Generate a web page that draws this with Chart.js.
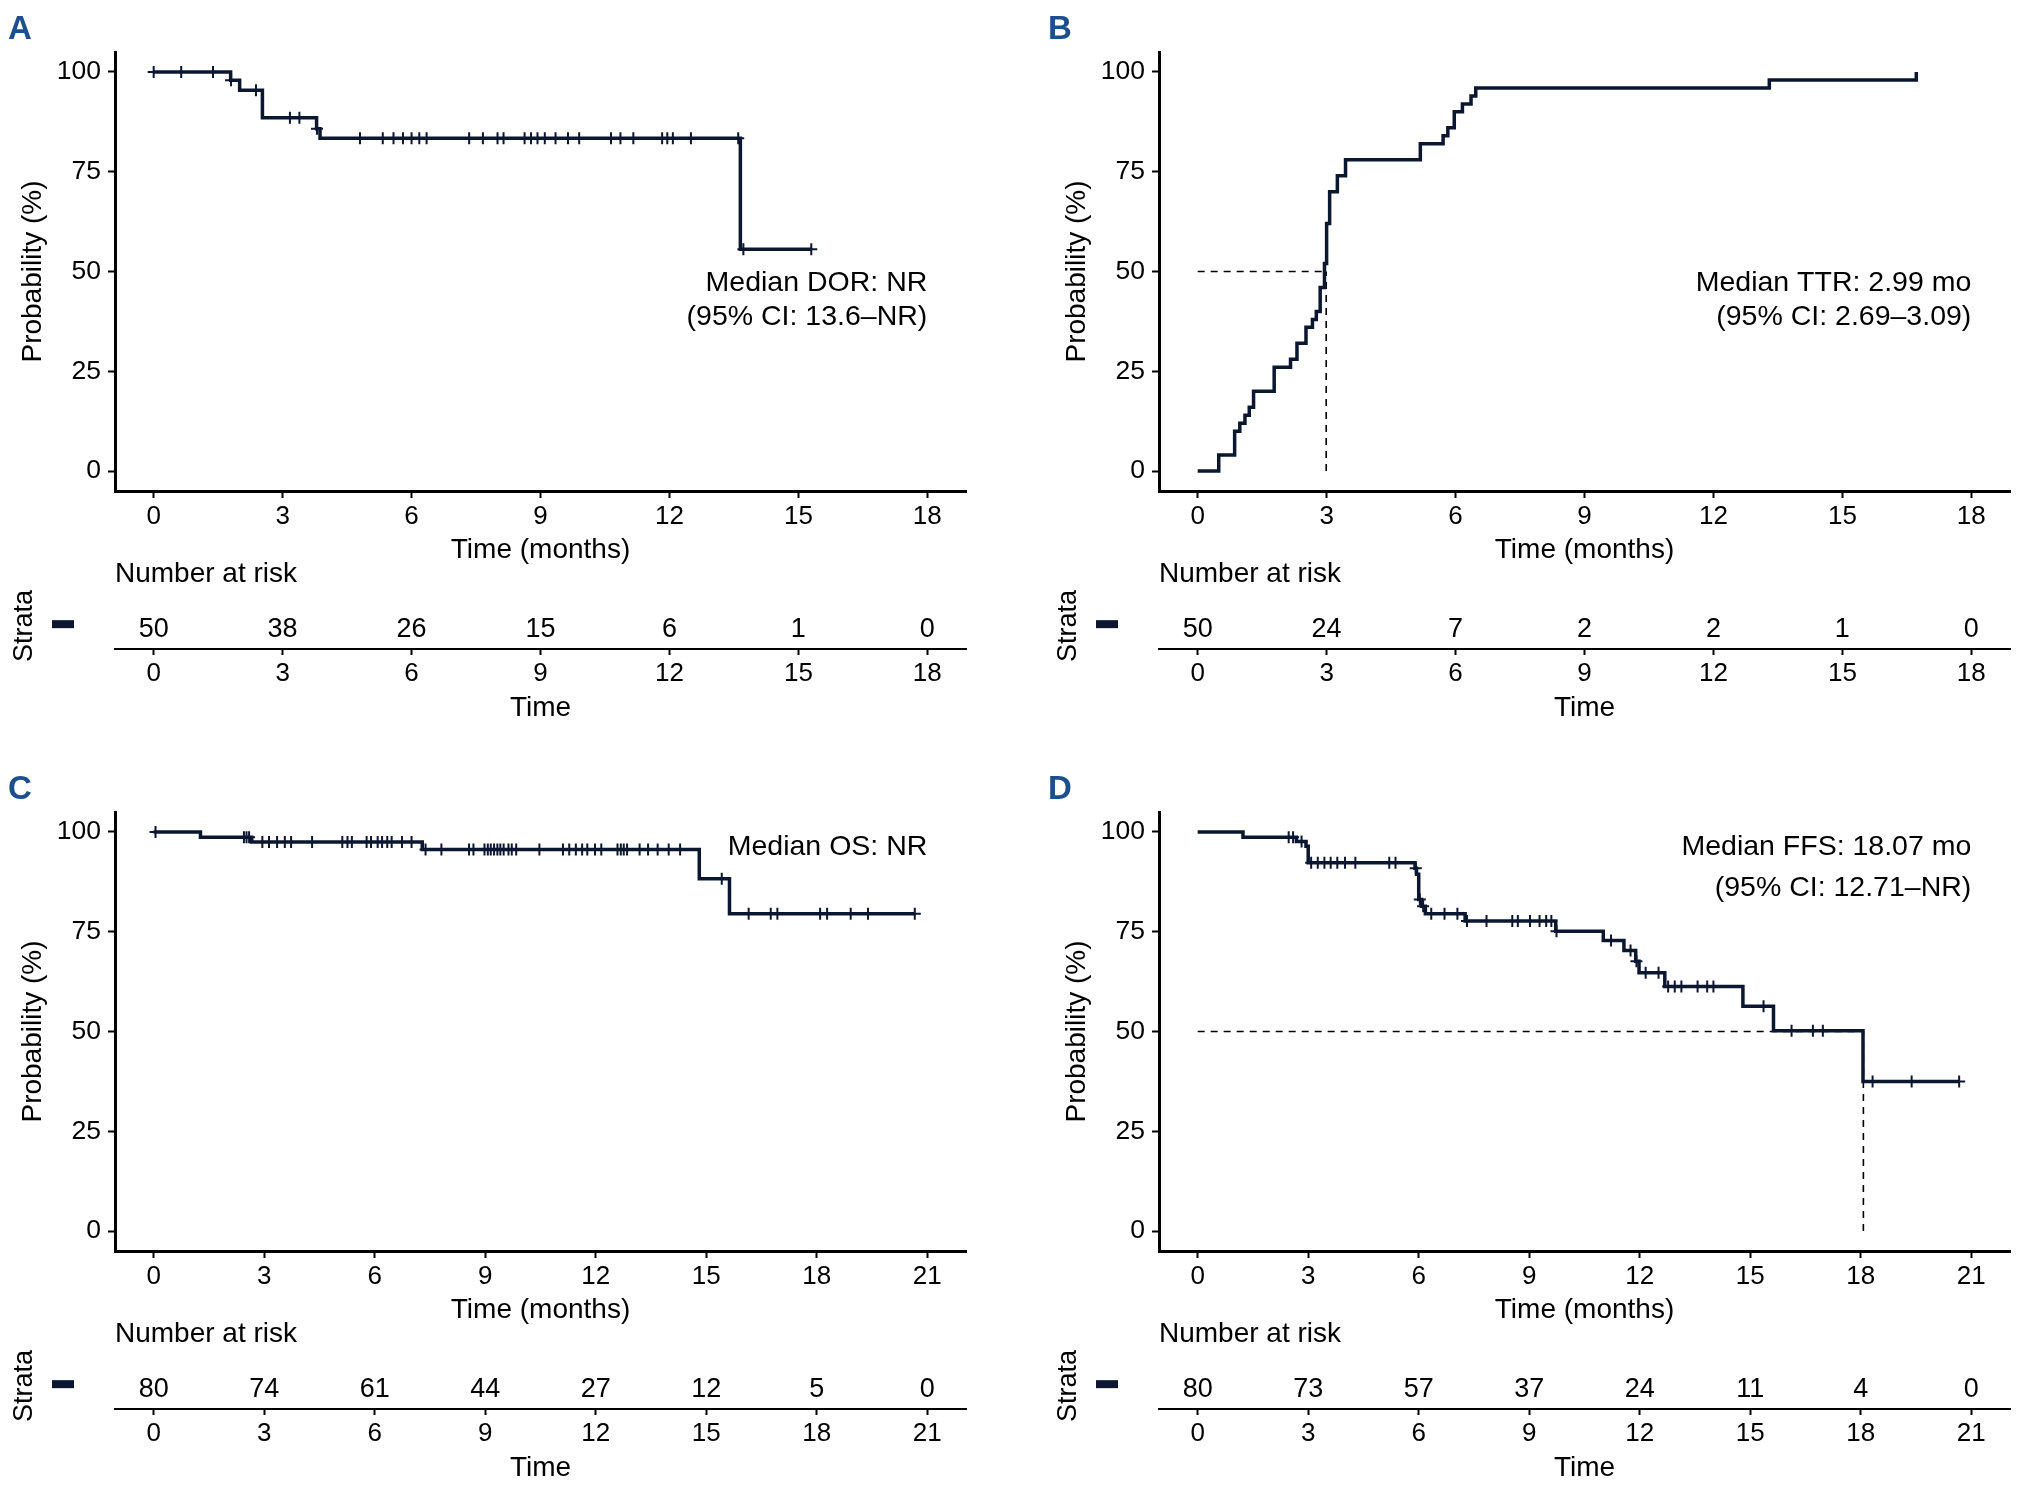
<!DOCTYPE html>
<html>
<head>
<meta charset="utf-8">
<title>KM panels</title>
<script src="https://cdn.jsdelivr.net/npm/chart.js@4.4.1/dist/chart.umd.min.js"></script>
<style>
    html, body { margin: 0; background: #fff; }
    #page { position: relative; width: 2029px; height: 1494px; overflow: hidden; }
    #page canvas { position: absolute; }
</style>
</head>
<body>
<div id="page"></div>
<script>
// ---- data ----
const ticks18 = [0, 3, 6, 9, 12, 15, 18];
const ticks21 = [0, 3, 6, 9, 12, 15, 18, 21];

// A: duration of response
const dorTime = [0, 1.79, 2.0, 2.53, 3.79, 3.87, 13.65, 15.3];
const dorSurv = [100, 97.9, 95.4, 88.5, 85.8, 83.4, 55.6, 55.6];
const dorCensor = [0, 0.64, 1.38, 1.8, 2.38, 3.17, 3.39, 3.8, 4.8, 5.33, 5.58, 5.8, 6.0, 6.18, 6.35,
    7.34, 7.66, 8.0, 8.14, 8.63, 8.78, 8.93, 9.1, 9.35, 9.64, 9.9, 10.64, 10.86, 11.16, 11.83, 11.95,
    12.08, 12.5, 13.6, 13.72, 15.3];
const dorRisk = [50, 38, 26, 15, 6, 1, 0];

// B: time to response (cumulative)
const ttrTime = [0, 0.49, 0.86, 0.98, 1.1, 1.2, 1.3, 1.78, 2.16, 2.31, 2.52, 2.67, 2.76, 2.85, 2.95,
    3.0, 3.07, 3.25, 3.44, 5.18, 5.71, 5.82, 5.97, 6.16, 6.36, 6.47, 13.3, 16.72];
const ttrCum = [0, 4, 10, 12, 14, 16, 20, 26, 28, 32, 36, 38, 40, 46, 52,
    62, 70, 74, 78, 82, 84, 86, 90, 92, 94, 96, 98, 100];
const ttrEnd = 16.72;
const ttrMedian = 2.99;
const ttrRisk = [50, 24, 7, 2, 2, 1, 0];

// C: overall survival
const osTime = [0, 1.27, 2.66, 7.29, 14.81, 15.63, 20.66];
const osSurv = [100, 98.7, 97.5, 95.6, 88.3, 79.5, 79.5];
const osCensor = [0.05, 2.45, 2.52, 2.59, 2.95, 3.13, 3.35, 3.56, 3.73, 4.3, 5.12, 5.26, 5.38, 5.78,
    5.9, 6.08, 6.2, 6.34, 6.46, 6.74, 7.0, 7.38, 7.81, 8.56, 8.68, 8.98, 9.07, 9.15, 9.24, 9.33, 9.41,
    9.5, 9.63, 9.72, 9.84, 10.47, 11.11, 11.28, 11.46, 11.63, 11.77, 11.98, 12.15, 12.59, 12.68, 12.76,
    12.85, 13.19, 13.42, 13.68, 13.98, 14.29, 15.42, 16.15, 16.75, 16.93, 18.09, 18.28, 18.92, 19.39, 20.66];
const osRisk = [80, 74, 61, 44, 27, 12, 5, 0];

// D: failure-free survival
const ffsTime = [0, 1.23, 2.68, 2.94, 3.0, 5.9, 5.94, 6.0, 6.08, 6.18, 7.26, 9.72, 11.01, 11.57,
    11.89, 11.98, 12.68, 14.8, 15.63, 18.06, 20.67];
const ffsSurv = [100, 98.7, 97.6, 96.4, 92.3, 90.9, 89.4, 83.1, 81.4, 79.5, 77.7, 75.1, 72.8, 70.3,
    67.6, 64.7, 61.3, 56.3, 50.2, 37.5, 37.5];
const ffsCensor = [2.47, 2.59, 2.82, 3.08, 3.26, 3.44, 3.61, 3.79, 4.0, 4.28, 5.2, 5.37, 5.92, 6.03,
    6.12, 6.34, 6.7, 7.05, 7.31, 7.84, 8.54, 8.69, 9.02, 9.28, 9.46, 9.6, 9.74, 11.22, 11.75, 11.91,
    12.16, 12.51, 12.77, 12.95, 13.13, 13.57, 13.83, 14.0, 15.36, 16.12, 16.7, 16.97, 18.32, 19.38, 20.67];
const ffsMedian = 18.07;
const ffsRisk = [80, 73, 57, 37, 24, 11, 4, 0];

// ---- drawing ----
const FONT = "'Liberation Sans', Arial, Helvetica, sans-serif";
const INK = '#0b1630';
const LETTER = '#1d4f8c';

function stepValue(times, vals, t) {
    let v = vals[0];
    for (let i = 0; i < times.length; i++) if (times[i] <= t) v = vals[i];
    return v;
}

function addCanvas(left, top, w, h) {
    const c = document.createElement('canvas');
    c.width = w; c.height = h;
    c.style.left = left + 'px'; c.style.top = top + 'px';
    c.style.width = w + 'px'; c.style.height = h + 'px';
    document.getElementById('page').appendChild(c);
    return c;
}

const kmText = {
    id: 'kmText',
    afterDraw(chart, args, opts) {
        const { ctx, scales: { x, y } } = chart;
        ctx.save();
        ctx.fillStyle = LETTER;
        ctx.font = 'bold 33px ' + FONT;
        ctx.textAlign = 'left';
        ctx.textBaseline = 'alphabetic';
        ctx.fillText(opts.letter, opts.letterX, 39);
        ctx.fillStyle = '#000';
        ctx.font = '28.5px ' + FONT;
        ctx.textAlign = 'right';
        ctx.textBaseline = 'middle';
        opts.note.forEach((s, i) => ctx.fillText(s, x.getPixelForValue(opts.noteX), y.getPixelForValue(opts.noteY[i])));
        ctx.restore();
    }
};

const riskText = {
    id: 'riskText',
    afterDraw(chart, args, opts) {
        const { ctx, chartArea, scales: { x, y } } = chart;
        ctx.save();
        ctx.fillStyle = '#000';
        ctx.textBaseline = 'middle';
        ctx.font = '28px ' + FONT;
        ctx.textAlign = 'left';
        ctx.fillText('Number at risk', chartArea.left, y.getPixelForValue(1.63));
        ctx.font = '27px ' + FONT;
        ctx.textAlign = 'center';
        opts.ticks.forEach((t, i) => ctx.fillText(String(opts.risk[i]), x.getPixelForValue(t), y.getPixelForValue(0.43)));
        ctx.fillStyle = INK;
        ctx.fillRect(opts.keyX, y.getPixelForValue(0.54) - 4, 22, 8);
        ctx.restore();
    }
};

function xScale(p, height, title, tickLen, borderW, titlePad) {
    return {
        type: 'linear',
        min: -0.05 * p.xEnd,
        max: 1.05 * p.xEnd,
        afterBuildTicks: s => { s.ticks = p.ticks.map(v => ({ value: v })); },
        afterFit: s => { s.height = height; },
        grid: { display: true, drawOnChartArea: false, drawTicks: true, tickLength: tickLen, tickWidth: 2, tickColor: '#000' },
        border: { display: true, color: '#000', width: borderW },
        ticks: { color: '#000', font: { family: FONT, size: 26 }, padding: 3, maxRotation: 0, autoSkip: false },
        title: { display: true, text: title, color: '#000', font: { family: FONT, size: 28 }, padding: { top: 0, bottom: titlePad } }
    };
}

function drawPanel(p) {
    const W = p.dx === 0 ? 1010 : 2029 - p.dx;
    const padRight = W - 966;

    // survival / incidence curve
    const curve = p.time.map((t, i) => ({ x: t, y: p.val[i] }));
    const datasets = [{
        data: curve, showLine: true, stepped: true, pointRadius: 0,
        borderColor: INK, borderWidth: 3.5, order: 1
    }];
    if (p.censor) {
        datasets.push({
            data: p.censor.map(t => ({ x: t, y: stepValue(p.time, p.val, t) })),
            showLine: false, pointStyle: 'cross', pointRadius: 6,
            borderColor: INK, borderWidth: 2, order: 0
        });
    }
    if (p.median != null) {
        const dash = { showLine: true, pointRadius: 0, borderColor: '#000', borderWidth: 1.6, borderDash: [7, 6], order: 2 };
        datasets.push(Object.assign({ data: [{ x: 0, y: 50 }, { x: p.median, y: 50 }] }, dash));
        datasets.push(Object.assign({ data: [{ x: p.median, y: 0 }, { x: p.median, y: 50 }] }, dash));
    }

    new Chart(addCanvas(p.dx, p.dy, W, 570), {
        type: 'scatter',
        data: { datasets },
        options: {
            responsive: false, animation: false,
            layout: { padding: { top: 52, right: padRight, left: 0, bottom: 0 } },
            plugins: {
                legend: { display: false }, tooltip: { enabled: false },
                kmText: { letter: p.letter, letterX: p.letterX, note: p.note, noteX: p.noteX, noteY: p.noteY }
            },
            scales: {
                x: xScale(p, 79, 'Time (months)', 7, 3, 3),
                y: {
                    type: 'linear', min: -5, max: 105,
                    afterBuildTicks: s => { s.ticks = [0, 25, 50, 75, 100].map(v => ({ value: v })); },
                    afterFit: s => { s.width = 115; },
                    grid: { display: true, drawOnChartArea: false, drawTicks: true, tickLength: 7, tickWidth: 2, tickColor: '#000' },
                    border: { display: true, color: '#000', width: 3 },
                    ticks: { color: '#000', font: { family: FONT, size: 26.5 }, padding: 7 },
                    title: { display: true, text: 'Probability (%)', color: '#000', font: { family: FONT, size: 28 }, padding: { top: 16, bottom: 0 } }
                }
            }
        },
        plugins: [kmText]
    });

    // number-at-risk table
    new Chart(addCanvas(p.dx, p.dy + 555, W, 175), {
        type: 'scatter',
        data: { datasets: [] },
        options: {
            responsive: false, animation: false,
            layout: { padding: { top: 48, right: padRight, left: 0, bottom: 0 } },
            plugins: {
                legend: { display: false }, tooltip: { enabled: false },
                riskText: { ticks: p.ticks, risk: p.risk, keyX: 52 }
            },
            scales: {
                x: xScale(p, 81, 'Time', 6, 2, 5),
                y: {
                    type: 'linear', min: 0, max: 1,
                    afterFit: s => { s.width = 115; },
                    grid: { display: false }, border: { display: false },
                    ticks: { display: false },
                    title: { display: true, text: 'Strata', color: '#000', font: { family: FONT, size: 27 }, padding: { top: 8, bottom: 0 } }
                }
            }
        },
        plugins: [riskText]
    });
}

const panels = [
    { letter: 'A', dx: 0, dy: 0, xEnd: 18, ticks: ticks18, time: dorTime, val: dorSurv, censor: dorCensor,
      risk: dorRisk, median: null, note: ['Median DOR: NR', '(95% CI: 13.6\u2013NR)'], noteX: 18, noteY: [47, 38.5] },
    { letter: 'B', dx: 1044, dy: 0, xEnd: 18, ticks: ticks18, time: ttrTime.concat([ttrEnd]), val: ttrCum.concat([100]),
      censor: null, risk: ttrRisk, median: ttrMedian, note: ['Median TTR: 2.99 mo', '(95% CI: 2.69\u20133.09)'], noteX: 18, noteY: [47, 38.5] },
    { letter: 'C', dx: 0, dy: 760, xEnd: 21, ticks: ticks21, time: osTime, val: osSurv, censor: osCensor,
      risk: osRisk, median: null, note: ['Median OS: NR'], noteX: 21, noteY: [96.2] },
    { letter: 'D', dx: 1044, dy: 760, xEnd: 21, ticks: ticks21, time: ffsTime, val: ffsSurv, censor: ffsCensor,
      risk: ffsRisk, median: ffsMedian, note: ['Median FFS: 18.07 mo', '(95% CI: 12.71\u2013NR)'], noteX: 21, noteY: [96.2, 86] }
];

panels.forEach(p => {
    p.letterX = p.dx === 0 ? 8 : 4;
    drawPanel(p);
});
</script>
</body>
</html>
